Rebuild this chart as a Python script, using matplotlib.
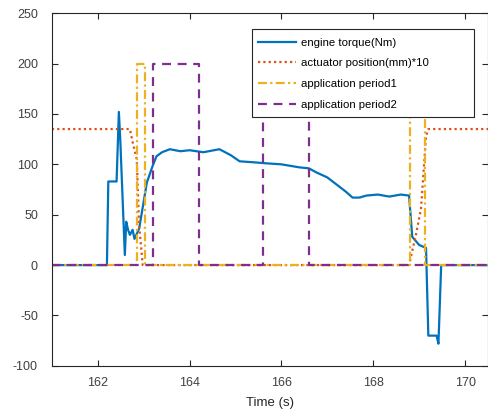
"""
重绘：发动机扭矩与执行器位置随时间变化
"""
import matplotlib
matplotlib.use('Agg')
import matplotlib.pyplot as plt
from matplotlib.patches import Rectangle

plt.rcParams['font.family'] = ['Liberation Sans', 'DejaVu Sans']
plt.rcParams['axes.unicode_minus'] = False

# 发动机扭矩 (Nm)
torque_t = [161.0, 162.2, 162.23, 162.41, 162.46, 162.49, 162.59, 162.62, 162.66,
            162.7, 162.76, 162.8, 162.9, 162.96, 163.07, 163.2, 163.28, 163.4,
            163.57, 163.8, 164.0, 164.3, 164.65, 164.9, 165.09, 165.4, 165.67,
            166.0, 166.39, 166.6, 166.76, 167.0, 167.2, 167.4, 167.55, 167.7,
            167.85, 168.1, 168.35, 168.6, 168.78, 168.85, 169.0, 169.15, 169.2,
            169.38, 169.42, 169.48, 170.5]
torque_v = [0, 0, 83, 83, 152, 125, 10, 43, 35,
            30, 35, 26, 36, 52, 82, 99, 108, 112,
            115, 113, 114, 112, 115, 109, 103, 102, 101,
            100, 97, 96, 92, 87, 80, 73, 67, 67,
            69, 70, 68, 70, 69, 28, 20, 17, -70,
            -70, -78, 0, 0]

# 执行器位置 (mm)*10
act_t = [161.0, 162.7, 162.76, 162.85, 162.9, 162.98, 168.78, 168.93, 169.04,
         169.15, 169.2, 170.5]
act_v = [135, 135, 122, 105, 40, 0, 0, 30, 56, 128, 135, 135]

# 作用时段 1
p1_t = [161.0, 162.85, 162.85, 163.04, 163.04, 168.8, 168.8, 169.13, 169.13, 170.5]
p1_v = [0, 0, 200, 200, 0, 0, 200, 200, 0, 0]

# 作用时段 2
p2_t = [161.0, 163.2, 163.2, 164.2, 164.2, 165.6, 165.6, 166.6, 166.6, 170.5]
p2_v = [0, 0, 200, 200, 0, 0, 200, 200, 0, 0]

fig = plt.figure(figsize=(4.89, 4.12), dpi=100)
ax = fig.add_axes([0.106, 0.112, 0.892, 0.856])

ax.plot(torque_t, torque_v, color='#0072BD', lw=1.6, label='engine torque(Nm)')
ax.plot(act_t, act_v, color='#D95319', lw=1.6, dashes=(1, 1.4),
        label='actuator position(mm)*10')
ax.plot(p1_t, p1_v, color='#EDB120', lw=1.6, dashes=(4, 1.5, 1, 1.5),
        label='application period1')
ax.plot(p2_t, p2_v, color='#7E2F8E', lw=1.6, dashes=(4, 3),
        label='application period2')

ax.set_xlim(161.0, 170.5)
ax.set_ylim(-100, 250)
ax.set_xticks([162, 164, 166, 168, 170])
ax.set_yticks([-100, -50, 0, 50, 100, 150, 200, 250])
ax.tick_params(direction='in', top=True, right=True, labelsize=9,
               colors='#262626', labelcolor='#404040', length=4)
ax.tick_params(axis='y', pad=10)
ax.tick_params(axis='x', pad=8)
for s in ax.spines.values():
    s.set_color('#262626')
    s.set_linewidth(0.8)
ax.set_xlabel('Time (s)', fontsize=9.5, color='#262626', labelpad=6)

# 图例框 (MATLAB 风格，右侧留白较宽)
box = Rectangle((0.459, 0.705), 0.509, 0.25, transform=ax.transAxes,
                facecolor='white', edgecolor='#262626', lw=0.8, zorder=4.5)
ax.add_patch(box)
leg = ax.legend(loc='upper left', bbox_to_anchor=(0.452, 0.955), fontsize=8.2,
                frameon=False, handlelength=3.4, borderpad=0.75,
                labelspacing=0.95, handletextpad=0.4, borderaxespad=0)
leg.set_zorder(5)

plt.savefig('out.png', dpi=100)
